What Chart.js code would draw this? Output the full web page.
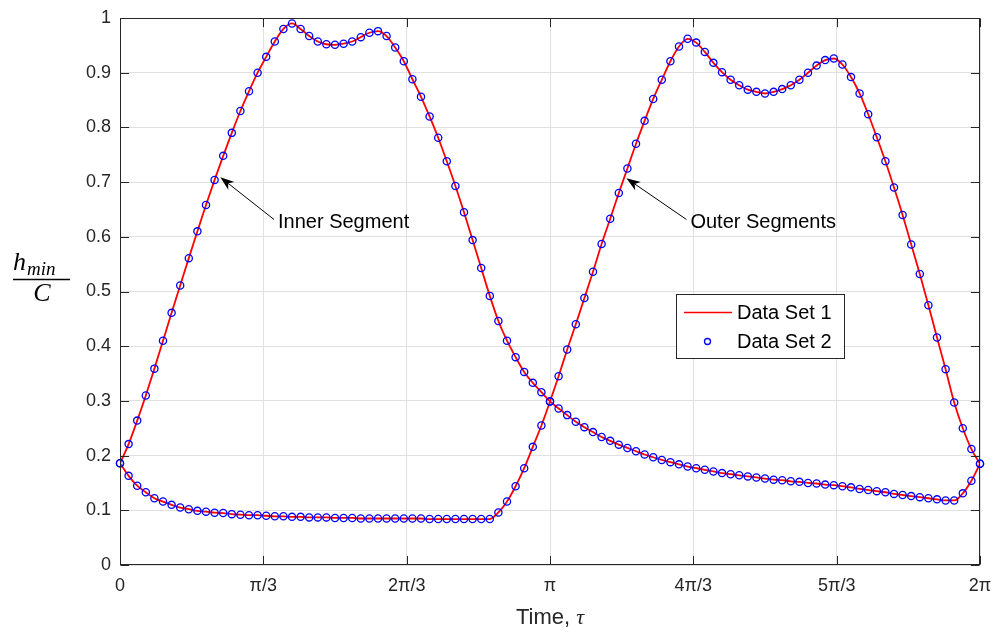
<!DOCTYPE html>
<html>
<head>
<meta charset="utf-8">
<script src="https://cdn.jsdelivr.net/npm/chart.js@4.4.1/dist/chart.umd.min.js"></script>
<style>
  html, body { margin: 0; padding: 0; background: #fff; }
  #wrap { width: 995px; height: 633px; }
</style>
</head>
<body>
<div id="wrap"><canvas id="myChart" width="995" height="633"></canvas></div>
<script>
// h_min / C, 101 samples from 0 to 2*pi
const innerSeg = [
    0.186, 0.221, 0.264, 0.310, 0.359, 0.410, 0.461, 0.511, 0.561, 0.610,
    0.658, 0.704, 0.748, 0.790, 0.830, 0.866, 0.900, 0.929, 0.957, 0.980,
    0.990, 0.980, 0.967, 0.957, 0.952, 0.951, 0.953, 0.957, 0.965, 0.973,
    0.976, 0.967, 0.946, 0.921, 0.888, 0.856, 0.820, 0.781, 0.738, 0.693,
    0.645, 0.594, 0.543, 0.492, 0.446, 0.410, 0.380, 0.353, 0.333, 0.316,
    0.299, 0.286, 0.274, 0.262, 0.252, 0.243, 0.234, 0.227, 0.220, 0.214,
    0.208, 0.202, 0.197, 0.192, 0.188, 0.184, 0.180, 0.177, 0.174, 0.171,
    0.168, 0.166, 0.164, 0.162, 0.160, 0.158, 0.156, 0.155, 0.153, 0.152,
    0.150, 0.149, 0.147, 0.146, 0.144, 0.142, 0.139, 0.137, 0.135, 0.133,
    0.130, 0.128, 0.126, 0.124, 0.122, 0.120, 0.118, 0.118, 0.131, 0.154,
    0.185
];
const outerSeg = [
    0.186, 0.163, 0.145, 0.133, 0.122, 0.116, 0.110, 0.105, 0.102, 0.099,
    0.0975, 0.0956, 0.095, 0.093, 0.092, 0.091, 0.091, 0.090, 0.089, 0.089,
    0.088, 0.088, 0.087, 0.087, 0.087, 0.086, 0.086, 0.086, 0.085, 0.085,
    0.085, 0.085, 0.085, 0.085, 0.085, 0.085, 0.084, 0.084, 0.084, 0.084,
    0.084, 0.084, 0.084, 0.084, 0.096, 0.116, 0.144, 0.177, 0.216, 0.255,
    0.299, 0.345, 0.394, 0.440, 0.488, 0.536, 0.587, 0.633, 0.680, 0.725,
    0.770, 0.812, 0.852, 0.887, 0.921, 0.948, 0.962, 0.955, 0.938, 0.918,
    0.901, 0.887, 0.877, 0.869, 0.865, 0.862, 0.865, 0.870, 0.877, 0.887,
    0.900, 0.913, 0.923, 0.926, 0.915, 0.892, 0.862, 0.824, 0.782, 0.738,
    0.690, 0.640, 0.586, 0.532, 0.475, 0.416, 0.358, 0.297, 0.250, 0.212,
    0.185
];
const xTickValues = [0, Math.PI / 3, 2 * Math.PI / 3, Math.PI, 4 * Math.PI / 3, 5 * Math.PI / 3, 2 * Math.PI];
const xTickLabels = ['0', 'π/3', '2π/3', 'π', '4π/3', '5π/3', '2π'];
const yTickValues = [0, 0.1, 0.2, 0.3, 0.4, 0.5, 0.6, 0.7, 0.8, 0.9, 1];
const yTickLabels = ['0', '0.1', '0.2', '0.3', '0.4', '0.5', '0.6', '0.7', '0.8', '0.9', '1'];
const seriesNames = ['Data Set 1', 'Data Set 2'];
const noteTexts = ['Inner Segment', 'Outer Segments'];

// sample times (even grid)
const tau = innerSeg.map((_, i) => 2 * Math.PI * i / (innerSeg.length - 1));
const toPts = arr => arr.map((v, i) => ({ x: tau[i], y: v }));

const AXIS = '#262626';
const SANS = '"Liberation Sans", Arial, Helvetica, sans-serif';
const SERIF = '"Liberation Serif", "DejaVu Serif", serif';

// arrow notes, in data units: tip of the arrow and start of the text
const notes = [
    { text: noteTexts[0], tip: [0.733, 0.709], tail: [1.147, 0.628] },
    { text: noteTexts[1], tip: [3.700, 0.707], tail: [4.160, 0.628] }
];

const lineStyle = { type: 'line', borderColor: '#ff0000', borderWidth: 1.8, pointRadius: 0, fill: false, cubicInterpolationMode: 'monotone', order: 2 };
const markStyle = { type: 'line', showLine: false, pointStyle: 'circle', pointRadius: 3.6, pointBorderWidth: 1.3, pointBorderColor: '#0000ff', pointBackgroundColor: 'rgba(0,0,0,0)', borderColor: '#0000ff', clip: false, order: 1 };

function drawArrow(ctx, x0, y0, x1, y1) {
    // line from (x0,y0) to tip (x1,y1) with a notched head
    const ang = Math.atan2(y1 - y0, x1 - x0);
    const len = 14, half = 5, notch = 10;
    const bx = x1 - len * Math.cos(ang), by = y1 - len * Math.sin(ang);
    const nx = x1 - notch * Math.cos(ang), ny = y1 - notch * Math.sin(ang);
    ctx.beginPath();
    ctx.moveTo(x0, y0);
    ctx.lineTo(nx, ny);
    ctx.stroke();
    ctx.beginPath();
    ctx.moveTo(x1, y1);
    ctx.lineTo(bx + half * Math.sin(ang), by - half * Math.cos(ang));
    ctx.lineTo(nx, ny);
    ctx.lineTo(bx - half * Math.sin(ang), by + half * Math.cos(ang));
    ctx.closePath();
    ctx.fill();
}

const matlabLook = {
    id: 'matlabLook',
    afterDatasetsDraw(chart) {
        const { ctx, chartArea: a, scales: { x, y } } = chart;
        const L = Math.round(a.left) + 0.5, R = Math.round(a.right) - 0.5;
        const T = Math.round(a.top) + 0.5, B = Math.round(a.bottom) - 0.5;
        ctx.save();
        ctx.strokeStyle = AXIS;
        ctx.lineWidth = 1;
        // inward ticks
        ctx.beginPath();
        xTickValues.forEach(v => {
            const px = Math.round(x.getPixelForValue(v)) + 0.5;
            ctx.moveTo(px, B); ctx.lineTo(px, B - 8.6);
            ctx.moveTo(px, T); ctx.lineTo(px, T + 8.6);
        });
        yTickValues.forEach(v => {
            const py = Math.round(y.getPixelForValue(v)) + 0.5;
            ctx.moveTo(L, py); ctx.lineTo(L + 8.6, py);
            ctx.moveTo(R, py); ctx.lineTo(R - 8.6, py);
        });
        ctx.stroke();
        ctx.strokeRect(L, T, R - L, B - T);

        // arrows and their labels
        ctx.fillStyle = '#000';
        ctx.strokeStyle = '#000';
        ctx.font = '20px ' + SANS;
        ctx.textBaseline = 'middle';
        ctx.textAlign = 'left';
        notes.forEach(n => {
            const tx = x.getPixelForValue(n.tail[0]), ty = y.getPixelForValue(n.tail[1]);
            const hx = x.getPixelForValue(n.tip[0]), hy = y.getPixelForValue(n.tip[1]);
            drawArrow(ctx, tx - 3, ty - 2, hx, hy);
            ctx.fillText(n.text, tx + 1, ty + 1);
        });

        // legend box
        const lx = 676, ly = 294, lw = 168, lh = 64;
        ctx.fillStyle = '#fff';
        ctx.fillRect(lx, ly, lw, lh);
        ctx.strokeStyle = AXIS;
        ctx.strokeRect(lx + 0.5, ly + 0.5, lw, lh);
        ctx.strokeStyle = '#ff0000';
        ctx.lineWidth = 1.3;
        ctx.beginPath();
        ctx.moveTo(684, ly + 18.5); ctx.lineTo(732, ly + 18.5);
        ctx.stroke();
        ctx.strokeStyle = '#0000ff';
        ctx.lineWidth = 1.3;
        ctx.beginPath();
        ctx.arc(707.5, ly + 47.5, 3, 0, Math.PI * 2);
        ctx.stroke();
        ctx.fillStyle = '#000';
        ctx.font = '20px ' + SANS;
        ctx.fillText(seriesNames[0], 737, ly + 19);
        ctx.fillText(seriesNames[1], 737, ly + 48);

        // axis titles
        ctx.fillStyle = AXIS;
        ctx.textBaseline = 'alphabetic';
        const part1 = 'Time, ';
        ctx.font = 'italic 22px ' + SERIF;
        const wTau = ctx.measureText('τ').width;
        ctx.font = '22px ' + SANS;
        const w1 = ctx.measureText(part1).width;
        const cx = (a.left + a.right) / 2;
        const sx = cx - (w1 + wTau) / 2;
        ctx.fillText(part1, sx, 624);
        ctx.font = 'italic 22px ' + SERIF;
        ctx.fillText('τ', sx + w1, 624);

        // y title as a fraction h_min / C
        ctx.fillStyle = '#000';
        ctx.strokeStyle = '#000';
        ctx.font = 'italic 26px ' + SERIF;
        ctx.fillText('h', 13, 270);
        const wh = ctx.measureText('h').width;
        ctx.font = 'italic 19px ' + SERIF;
        ctx.fillText('min', 13 + wh + 1, 275);
        ctx.lineWidth = 1.4;
        ctx.beginPath();
        ctx.moveTo(13, 279.5); ctx.lineTo(70, 279.5);
        ctx.stroke();
        ctx.font = 'italic 26px ' + SERIF;
        ctx.textAlign = 'center';
        ctx.fillText('C', 42, 301);
        ctx.restore();
    }
};

const chart = new Chart(document.getElementById('myChart'), {
    data: {
        datasets: [
            Object.assign({ label: seriesNames[1], data: toPts(innerSeg) }, markStyle),
            Object.assign({ label: seriesNames[1], data: toPts(outerSeg) }, markStyle),
            Object.assign({ label: seriesNames[0], data: toPts(innerSeg) }, lineStyle),
            Object.assign({ label: seriesNames[0], data: toPts(outerSeg) }, lineStyle)
        ]
    },
    options: {
        responsive: false,
        animation: false,
        layout: { padding: { left: 0, right: 15, top: 18, bottom: 0 } },
        scales: {
            x: {
                type: 'linear',
                min: 0,
                max: 2 * Math.PI,
                afterBuildTicks: s => { s.ticks = xTickValues.map(v => ({ value: v })); },
                afterFit: s => { s.height = 68; s.paddingLeft = 0; s.paddingRight = 0; },
                ticks: {
                    autoSkip: false,
                    maxRotation: 0,
                    padding: 10,
                    color: AXIS,
                    font: { family: SANS, size: 18 },
                    callback: (v, i) => xTickLabels[i]
                },
                grid: { color: '#e0e0e0', lineWidth: 1, drawTicks: false },
                border: { display: false }
            },
            y: {
                type: 'linear',
                min: 0,
                max: 1,
                afterBuildTicks: s => { s.ticks = yTickValues.map(v => ({ value: v })); },
                afterFit: s => { s.width = 120; s.paddingTop = 0; s.paddingBottom = 0; },
                ticks: {
                    autoSkip: false,
                    padding: 9,
                    color: AXIS,
                    font: { family: SANS, size: 18 },
                    callback: (v, i) => yTickLabels[i]
                },
                grid: { color: '#e0e0e0', lineWidth: 1, drawTicks: false },
                border: { display: false }
            }
        },
        plugins: {
            legend: { display: false },
            tooltip: { enabled: false }
        }
    },
    plugins: [matlabLook]
});
</script>
</body>
</html>
